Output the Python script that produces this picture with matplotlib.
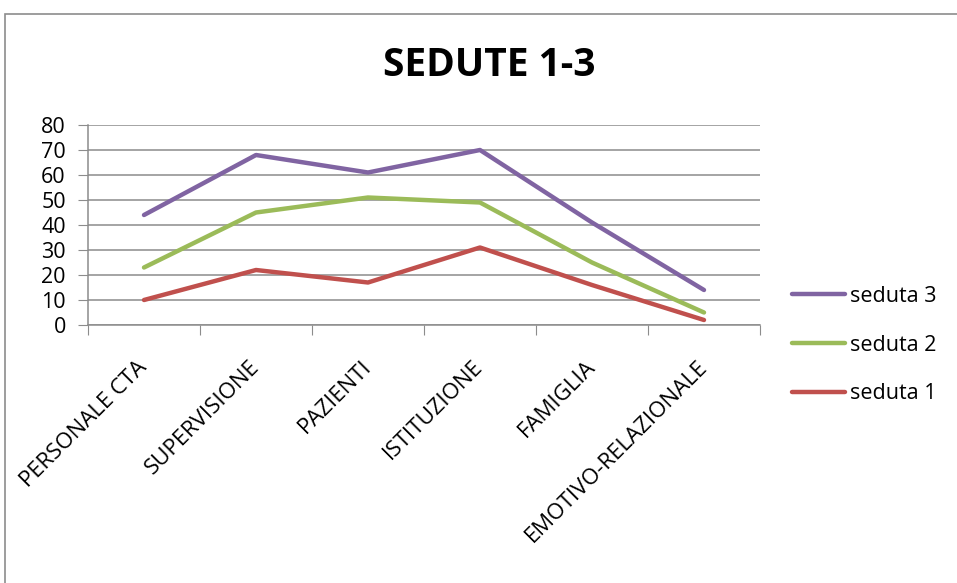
import matplotlib
matplotlib.use("Agg")
import matplotlib.pyplot as plt
from matplotlib.patches import Rectangle

# data
categorie = ['PERSONALE CTA', 'SUPERVISIONE', 'PAZIENTI', 'ISTITUZIONE',
             'FAMIGLIA', 'EMOTIVO-RELAZIONALE']
seduta_1 = [10, 22, 17, 31, 16, 2]
seduta_2 = [23, 45, 51, 49, 25, 5]
seduta_3 = [44, 68, 61, 70, 41, 14]
y_ticks = [0, 10, 20, 30, 40, 50, 60, 70, 80]

W, H = 957, 583
FONT = 'Open Sans'
fig = plt.figure(figsize=(W/100, H/100), dpi=100)
fig.patch.set_facecolor('white')

# outer chart frame (only top/left visible in the reference)
fig.patches.append(Rectangle((5/W, -0.1), 1.2, (H-14)/H + 0.1, transform=fig.transFigure,
                             fill=False, edgecolor='#8c8c8c', linewidth=1.2))

ax = fig.add_axes([88/W, (H-325)/H, (760-88)/W, 200/H])

x = range(len(categorie))
lw = 3.2
ax.plot(x, seduta_3, color='#8064A2', lw=lw, label='seduta 3', solid_capstyle='round')
ax.plot(x, seduta_2, color='#9BBB59', lw=lw, label='seduta 2', solid_capstyle='round')
ax.plot(x, seduta_1, color='#C0504D', lw=lw, label='seduta 1', solid_capstyle='round')

ax.set_xlim(-0.5, len(categorie) - 0.5)
ax.set_ylim(0, 80)
ax.set_yticks(y_ticks)
ax.set_yticklabels([str(v) for v in y_ticks], fontsize=15.5, family=FONT)
ax.yaxis.grid(True, color='#8c8c8c', lw=1.1)
ax.set_axisbelow(True)
ax.tick_params(axis='y', length=7, color='#8c8c8c', pad=9)

# category boundaries as ticks, labels at centres
ax.set_xticks([i - 0.5 for i in range(len(categorie) + 1)])
ax.set_xticklabels([])
ax.set_xticks(list(x), minor=True)
ax.set_xticklabels(categorie, minor=True, rotation=45, ha='right', va='center',
                   rotation_mode='anchor', fontsize=16, family=FONT)
ax.tick_params(axis='x', which='major', length=7, color='#8c8c8c')
ax.tick_params(axis='x', which='minor', length=0, pad=28)

for s in ['top', 'right']:
    ax.spines[s].set_visible(False)
for s in ['left', 'bottom']:
    ax.spines[s].set_color('#8c8c8c')
    ax.spines[s].set_linewidth(1.1)

fig.text(489/W, 1 - 65/H, 'SEDUTE 1-3', ha='center', va='center',
         fontsize=28, fontweight='bold', family=FONT)

leg = ax.legend(loc='upper left', bbox_to_anchor=(792/W, 1 - 286/H),
                bbox_transform=fig.transFigure, frameon=False,
                borderpad=0, borderaxespad=0,
                prop={'family': FONT, 'size': 15.5},
                handlelength=2.45, handletextpad=0.25, labelspacing=1.28)

fig.savefig('out.png', dpi=100)
